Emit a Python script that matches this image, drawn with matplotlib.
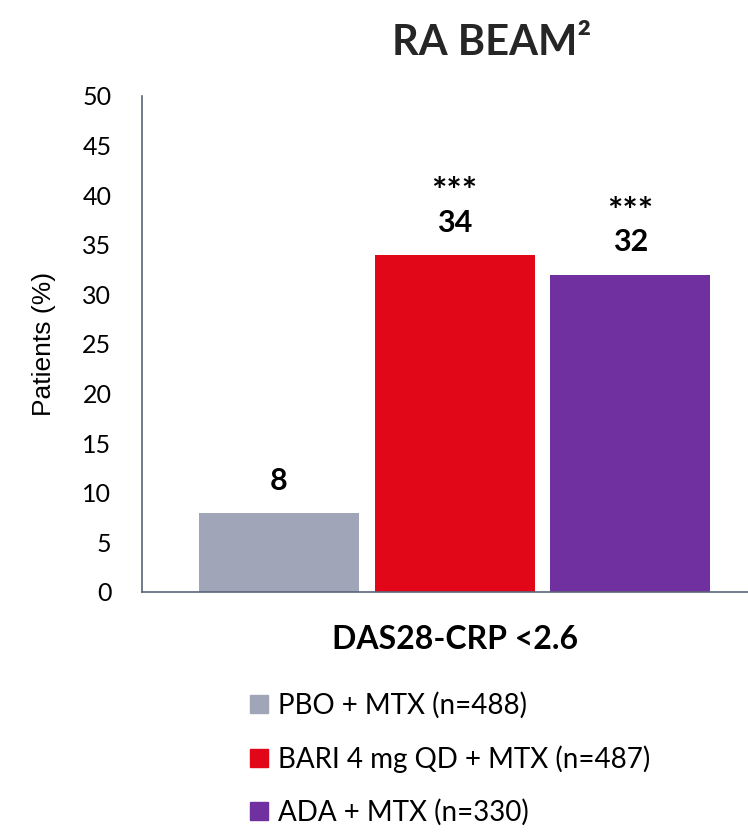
import matplotlib.pyplot as plt
from matplotlib.lines import Line2D

groups = ["PBO + MTX (n=488)", "BARI 4 mg QD + MTX (n=487)", "ADA + MTX (n=330)"]
values = [8, 34, 32]
stars = ["", "***", "***"]
colors = ["#a0a5b7", "#e10718", "#7030a0"]
yticks = [0, 5, 10, 15, 20, 25, 30, 35, 40, 45, 50]

font = "Lato"

fig = plt.figure(figsize=(7.48, 8.32), dpi=100)
ax = fig.add_axes([0.1898, 0.2885, 0.8102, 0.5962])

x = list(range(len(values)))
ax.bar(x, values, width=0.91, color=colors)

for xi, v, s in zip(x, values, stars):
    ax.annotate(str(v), (xi, v), xytext=(0, 13), textcoords="offset points",
                ha="center", va="bottom", fontsize=22, fontweight="bold", family=font)
    if s:
        ax.annotate(s, (xi, v), xytext=(0, 33), textcoords="offset points",
                    ha="center", va="bottom", fontsize=26, fontweight="bold", family=font)

ax.set_xlim(-0.78, 2.67)
ax.set_ylim(0, 50)
ax.set_yticks(yticks)
ax.set_xticks([])
ax.tick_params(axis="y", length=0, pad=22)
for lab in ax.get_yticklabels():
    lab.set_family(font)
    lab.set_fontsize(18)
for side in ["top", "right"]:
    ax.spines[side].set_visible(False)
for side in ["left", "bottom"]:
    ax.spines[side].set_color("#5a6478")
    ax.spines[side].set_linewidth(1.2)

ax.set_ylabel("Patients (%)", fontsize=19, family="Liberation Sans", labelpad=19)

fig.text(0.657, 0.948, "RA BEAM²", ha="center", va="center", fontsize=30,
         fontweight="bold", family=font, color="#262626")
fig.text(0.608, 0.231, "DAS28-CRP <2.6", ha="center", va="center", fontsize=23,
         fontweight="bold", family=font)

handles = [Line2D([], [], marker="s", linestyle="", markersize=13, color=c) for c in colors]
fig.legend(handles, groups, loc="upper left", bbox_to_anchor=(0.318, 0.182),
           frameon=False, prop={"family": font, "size": 20}, handlelength=0.7,
           handletextpad=0.35, labelspacing=0.95, borderaxespad=0)

fig.savefig("out.png", dpi=100)
